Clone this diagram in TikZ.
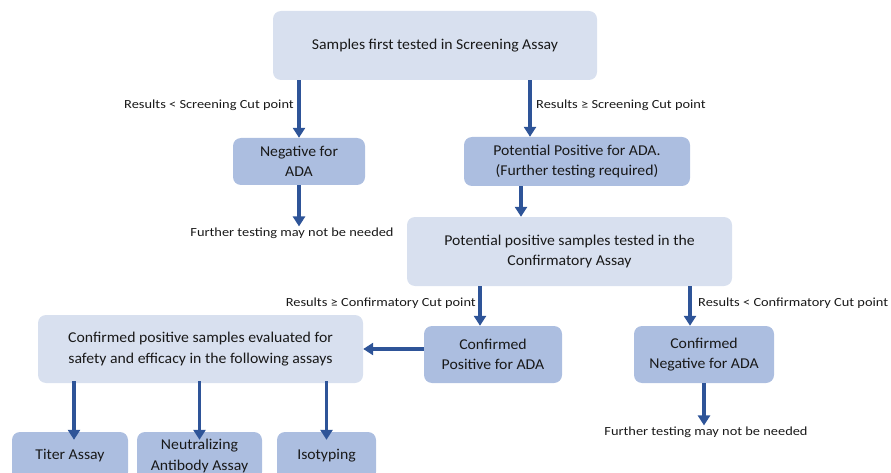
\documentclass[tikz,border=0pt]{standalone}
\usepackage{fontspec}
\setmainfont{Carlito}
\newfontfamily\lblfont[FakeStretch=1.16]{Carlito}
\newfontfamily\boxfont[FakeStretch=1.05]{Carlito}
\usetikzlibrary{arrows.meta}
\definecolor{lightbox}{RGB}{216,224,239}
\definecolor{darkbox}{RGB}{172,190,224}
\definecolor{arrowblue}{RGB}{46,84,152}
\definecolor{txt}{RGB}{25,25,25}
\begin{document}
\begin{tikzpicture}[x=1pt,y=-1pt,
  box/.style={rounded corners=8pt, inner sep=0pt, align=center, text=txt, font=\boxfont\fontsize{15}{20.5}\selectfont},
  lbox/.style={box, fill=lightbox},
  dbox/.style={box, fill=darkbox},
  lbl/.style={text=txt, font=\lblfont\fontsize{12.4}{14}\selectfont, inner sep=0pt},
  arr/.style={draw=arrowblue, line width=3.5pt, -{Triangle[width=12pt,length=10pt]}}]
\useasboundingbox (0,0) rectangle (891,473);
\clip (0,0) rectangle (891,473);

\node[lbox, minimum width=324pt, minimum height=69pt] (screen) at (435,45.5) {Samples first tested in Screening Assay};
\node[dbox, minimum width=132pt, minimum height=47pt] (neg) at (299,161.5) {Negative for\\ADA};
\node[dbox, minimum width=226pt, minimum height=49pt] (pot) at (577,161.5) {Potential Positive for ADA.\\(Further testing required)};
\node[lbox, minimum width=325pt, minimum height=69pt] (conf) at (569.5,251.5) {Potential positive samples tested in the\\Confirmatory Assay};
\node[dbox, minimum width=138pt, minimum height=57pt] (cpos) at (493,354.5) {Confirmed\\Positive for ADA};
\node[dbox, minimum width=140pt, minimum height=57pt] (cneg) at (704,354.5) {Confirmed\\Negative for ADA};
\node[lbox, minimum width=325pt, minimum height=68pt] (eval) at (200.5,349) {Confirmed positive samples evaluated for\\safety and efficacy in the following assays};
\node[dbox, minimum width=116pt, minimum height=48pt] (titer) at (70,456) {Titer Assay};
\node[dbox, minimum width=125pt, minimum height=48pt] (neut) at (199.5,456) {Neutralizing\\Antibody Assay};
\node[dbox, minimum width=99pt, minimum height=48pt] (iso) at (326.5,456) {Isotyping};

\node[lbl, anchor=east] (l1) at (294,105) {Results < Screening Cut point};
\node[lbl, anchor=west] (l2) at (536,105) {Results ≥ Screening Cut point};
\node[lbl, anchor=east] (l3) at (476,303) {Results ≥ Confirmatory Cut point};
\node[lbl, anchor=west] (l4) at (698,303) {Results < Confirmatory Cut point};
\node[lbl] (fneg) at (292,233) {Further testing may not be needed};
\node[lbl] (fneg2) at (706,432) {Further testing may not be needed};

\draw[arr] (screen.south -| neg.north) -- (neg.north);
\draw[arr] ([xshift=95pt]screen.south) -- ([xshift=-47pt]pot.north);
\draw[arr] (neg.south) -- ([yshift=1pt]neg.south |- fneg.north);
\draw[arr] ([xshift=-56pt]pot.south) -- ([xshift=-48.5pt]conf.north);
\draw[arr] ([xshift=-89.5pt]conf.south) -- ([xshift=-13pt]cpos.north);
\draw[arr] ([xshift=120.5pt]conf.south) -- ([xshift=-14pt]cneg.north);
\draw[arr] (cpos.west |- eval.east) -- (eval.east);
\draw[arr] (cneg.south) -- ([yshift=1pt]cneg.south |- fneg2.north);
\draw[arr] ([xshift=4pt,yshift=2pt]eval.south -| titer.north) -- ([xshift=4pt,yshift=-8pt]titer.north);
\draw[arr] ([yshift=2pt]eval.south -| neut.north) -- ([yshift=-8pt]neut.north);
\draw[arr] ([yshift=2pt]eval.south -| iso.north) -- ([yshift=-8pt]iso.north);
\end{tikzpicture}
\end{document}
